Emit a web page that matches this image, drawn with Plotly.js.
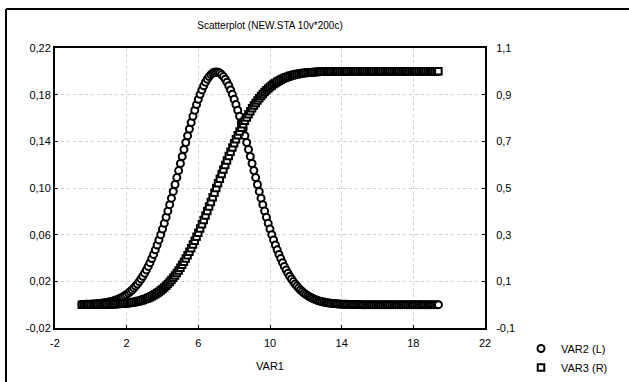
<!DOCTYPE html>
<html>
<head>
<meta charset="utf-8">
<script src="https://cdn.plot.ly/plotly-3.0.1.min.js"></script>
<style>html,body{margin:0;padding:0;background:#fff;}#chart{width:629px;height:382px;}</style>
</head>
<body>
<div id="chart"></div>
<script>
var chartTitle = 'Scatterplot (NEW.STA 10v*200c)';
var xTitle = 'VAR1';
var seriesNames = ['VAR2 (L)', 'VAR3 (R)'];

var VAR1 = [
-0.5,-0.4,-0.3,-0.2,-0.1,0,0.1,0.2,0.3,0.4,
0.5,0.6,0.7,0.8,0.9,1.0,1.1,1.2,1.3,1.4,
1.5,1.6,1.7,1.8,1.9,2.0,2.1,2.2,2.3,2.4,
2.5,2.6,2.7,2.8,2.9,3.0,3.1,3.2,3.3,3.4,
3.5,3.6,3.7,3.8,3.9,4.0,4.1,4.2,4.3,4.4,
4.5,4.6,4.7,4.8,4.9,5.0,5.1,5.2,5.3,5.4,
5.5,5.6,5.7,5.8,5.9,6.0,6.1,6.2,6.3,6.4,
6.5,6.6,6.7,6.8,6.9,7.0,7.1,7.2,7.3,7.4,
7.5,7.6,7.7,7.8,7.9,8.0,8.1,8.2,8.3,8.4,
8.5,8.6,8.7,8.8,8.9,9.0,9.1,9.2,9.3,9.4,
9.5,9.6,9.7,9.8,9.9,10.0,10.1,10.2,10.3,10.4,
10.5,10.6,10.7,10.8,10.9,11.0,11.1,11.2,11.3,11.4,
11.5,11.6,11.7,11.8,11.9,12.0,12.1,12.2,12.3,12.4,
12.5,12.6,12.7,12.8,12.9,13.0,13.1,13.2,13.3,13.4,
13.5,13.6,13.7,13.8,13.9,14.0,14.1,14.2,14.3,14.4,
14.5,14.6,14.7,14.8,14.9,15.0,15.1,15.2,15.3,15.4,
15.5,15.6,15.7,15.8,15.9,16.0,16.1,16.2,16.3,16.4,
16.5,16.6,16.7,16.8,16.9,17.0,17.1,17.2,17.3,17.4,
17.5,17.6,17.7,17.8,17.9,18.0,18.1,18.2,18.3,18.4,
18.5,18.6,18.7,18.8,18.9,19.0,19.1,19.2,19.3,19.4
];

var VAR2 = [
0.0002,0.0002,0.0003,0.0003,0.0004,0.0004,0.0005,0.0006,0.0007,0.0009,
0.0010,0.0012,0.0014,0.0016,0.0019,0.0022,0.0026,0.0030,0.0034,0.0040,
0.0045,0.0052,0.0060,0.0068,0.0077,0.0088,0.0099,0.0112,0.0126,0.0142,
0.0159,0.0177,0.0198,0.0220,0.0244,0.0270,0.0298,0.0328,0.0360,0.0395,
0.0431,0.0470,0.0511,0.0555,0.0600,0.0648,0.0697,0.0749,0.0802,0.0857,
0.0913,0.0971,0.1030,0.1089,0.1149,0.1210,0.1270,0.1330,0.1390,0.1448,
0.1506,0.1561,0.1615,0.1666,0.1715,0.1760,0.1803,0.1841,0.1876,0.1907,
0.1933,0.1955,0.1972,0.1985,0.1992,0.1995,0.1992,0.1985,0.1972,0.1955,
0.1933,0.1907,0.1876,0.1841,0.1803,0.1760,0.1715,0.1666,0.1615,0.1561,
0.1506,0.1448,0.1390,0.1330,0.1270,0.1210,0.1149,0.1089,0.1030,0.0971,
0.0913,0.0857,0.0802,0.0749,0.0697,0.0648,0.0600,0.0555,0.0511,0.0470,
0.0431,0.0395,0.0360,0.0328,0.0298,0.0270,0.0244,0.0220,0.0198,0.0177,
0.0159,0.0142,0.0126,0.0112,0.0099,0.0088,0.0077,0.0068,0.0060,0.0052,
0.0045,0.0040,0.0034,0.0030,0.0026,0.0022,0.0019,0.0016,0.0014,0.0012,
0.0010,0.0009,0.0007,0.0006,0.0005,0.0004,0.0004,0.0003,0.0003,0.0002,
0.0002,0.0001,0.0001,0.0001,0.0001,0.0001,0,0,0,0,
0,0,0,0,0,0,0,0,0,0,
0,0,0,0,0,0,0,0,0,0,
0,0,0,0,0,0,0,0,0,0,
0,0,0,0,0,0,0,0,0,0
];

var VAR3 = [
0.0001,0.0001,0.0001,0.0002,0.0002,0.0002,0.0003,0.0003,0.0004,0.0005,
0.0006,0.0007,0.0008,0.0010,0.0011,0.0013,0.0016,0.0019,0.0022,0.0026,
0.0030,0.0035,0.0040,0.0047,0.0054,0.0062,0.0071,0.0082,0.0094,0.0107,
0.0122,0.0139,0.0158,0.0179,0.0202,0.0228,0.0256,0.0287,0.0322,0.0359,
0.0401,0.0446,0.0495,0.0548,0.0606,0.0668,0.0735,0.0808,0.0885,0.0968,
0.1056,0.1151,0.1251,0.1357,0.1469,0.1587,0.1711,0.1841,0.1977,0.2119,
0.2266,0.2420,0.2578,0.2743,0.2912,0.3085,0.3264,0.3446,0.3632,0.3821,
0.4013,0.4207,0.4404,0.4602,0.4801,0.5000,0.5199,0.5398,0.5596,0.5793,
0.5987,0.6179,0.6368,0.6554,0.6736,0.6915,0.7088,0.7257,0.7422,0.7580,
0.7734,0.7881,0.8023,0.8159,0.8289,0.8413,0.8531,0.8643,0.8749,0.8849,
0.8944,0.9032,0.9115,0.9192,0.9265,0.9332,0.9394,0.9452,0.9505,0.9554,
0.9599,0.9641,0.9678,0.9713,0.9744,0.9772,0.9798,0.9821,0.9842,0.9861,
0.9878,0.9893,0.9906,0.9918,0.9929,0.9938,0.9946,0.9953,0.9960,0.9965,
0.9970,0.9974,0.9978,0.9981,0.9984,0.9987,0.9989,0.9990,0.9992,0.9993,
0.9994,0.9995,0.9996,0.9997,0.9997,0.9998,0.9998,0.9998,0.9999,0.9999,
0.9999,0.9999,0.9999,1,1,1,1,1,1,1,
1,1,1,1,1,1,1,1,1,1,
1,1,1,1,1,1,1,1,1,1,
1,1,1,1,1,1,1,1,1,1,
1,1,1,1,1,1,1,1,1,1
];

var xTickVals = [-2, 2, 6, 10, 14, 18, 22];
var xTickText = ['-2', '2', '6', '10', '14', '18', '22'];
var yLeftTickVals = [-0.02, 0.02, 0.06, 0.10, 0.14, 0.18, 0.22];
var yLeftTickText = ['-0,02', '0,02', '0,06', '0,10', '0,14', '0,18', '0,22'];
var yRightTickVals = [-0.1, 0.1, 0.3, 0.5, 0.7, 0.9, 1.1];
var yRightTickText = ['-0,1', '0,1', '0,3', '0,5', '0,7', '0,9', '1,1'];

var FONT = 'Liberation Sans, Arial, sans-serif';

var traces = [
  {
    x: VAR1, y: VAR2, name: seriesNames[0], type: 'scatter', mode: 'markers', yaxis: 'y',
    marker: {symbol: 'circle', size: 7, color: '#ffffff', line: {color: '#000000', width: 2}}
  },
  {
    x: VAR1, y: VAR3, name: seriesNames[1], type: 'scatter', mode: 'markers', yaxis: 'y2',
    marker: {symbol: 'square', size: 6.5, color: '#ffffff', line: {color: '#000000', width: 2}}
  }
];

var layout = {
  width: 629, height: 382,
  margin: {l: 55, r: 144, t: 48, b: 54, pad: 0, autoexpand: false},
  paper_bgcolor: '#ffffff', plot_bgcolor: '#ffffff',
  font: {family: FONT, size: 11, color: '#000000'},
  showlegend: true,
  title: {text: chartTitle, font: {family: FONT, size: 10, color: '#000'}, x: 0.5, xref: 'paper', xanchor: 'center', y: 1 - 25/382, yref: 'container', yanchor: 'middle'},
  xaxis: {
    range: [-2, 22], tickmode: 'array', tickvals: xTickVals, ticktext: xTickText,
    showline: true, linecolor: '#000', linewidth: 2, mirror: true,
    ticks: 'inside', ticklen: 3, tickcolor: '#000', tickwidth: 1, ticklabelstandoff: 4,
    showgrid: true, gridcolor: '#cfcfcf', griddash: 'dot', gridwidth: 1, zeroline: false,
    tickfont: {family: FONT, size: 11},
    title: {text: xTitle, font: {family: FONT, size: 11}, standoff: 14}
  },
  yaxis: {
    range: [-0.02, 0.22], tickmode: 'array', tickvals: yLeftTickVals, ticktext: yLeftTickText,
    showline: true, linecolor: '#000', linewidth: 2, mirror: true,
    ticks: 'inside', ticklen: 3, tickcolor: '#000', tickwidth: 1,
    showgrid: true, gridcolor: '#cfcfcf', griddash: 'dot', gridwidth: 1, zeroline: false,
    tickfont: {family: FONT, size: 11}
  },
  yaxis2: {
    range: [-0.1, 1.1], tickmode: 'array', tickvals: yRightTickVals, ticktext: yRightTickText,
    overlaying: 'y', side: 'right',
    showline: true, linecolor: '#000', linewidth: 2,
    ticks: 'inside', ticklen: 3, tickcolor: '#000', tickwidth: 1, ticklabelstandoff: 7,
    showgrid: false, zeroline: false,
    tickfont: {family: FONT, size: 11}
  },
  legend: {
    x: (521 - 55) / 430, xanchor: 'left', xref: 'paper',
    y: (328 - 334) / 280, yanchor: 'top', yref: 'paper',
    bgcolor: 'rgba(0,0,0,0)', borderwidth: 0,
    font: {family: FONT, size: 11}, tracegroupgap: 0, itemsizing: 'trace'
  },
  shapes: [
    {type: 'line', xref: 'paper', yref: 'paper', x0: (6 - 55) / 430, x1: (6 - 55) / 430, y0: (328 - 9) / 280, y1: (328 - 382) / 280, line: {color: '#000', width: 2}},
    {type: 'line', xref: 'paper', yref: 'paper', x0: (6 - 55) / 430, x1: (629 - 55) / 430, y0: (328 - 9) / 280, y1: (328 - 9) / 280, line: {color: '#000', width: 2}}
  ]
};

Plotly.newPlot('chart', traces, layout, {displayModeBar: false, staticPlot: true});
</script>
</body>
</html>
